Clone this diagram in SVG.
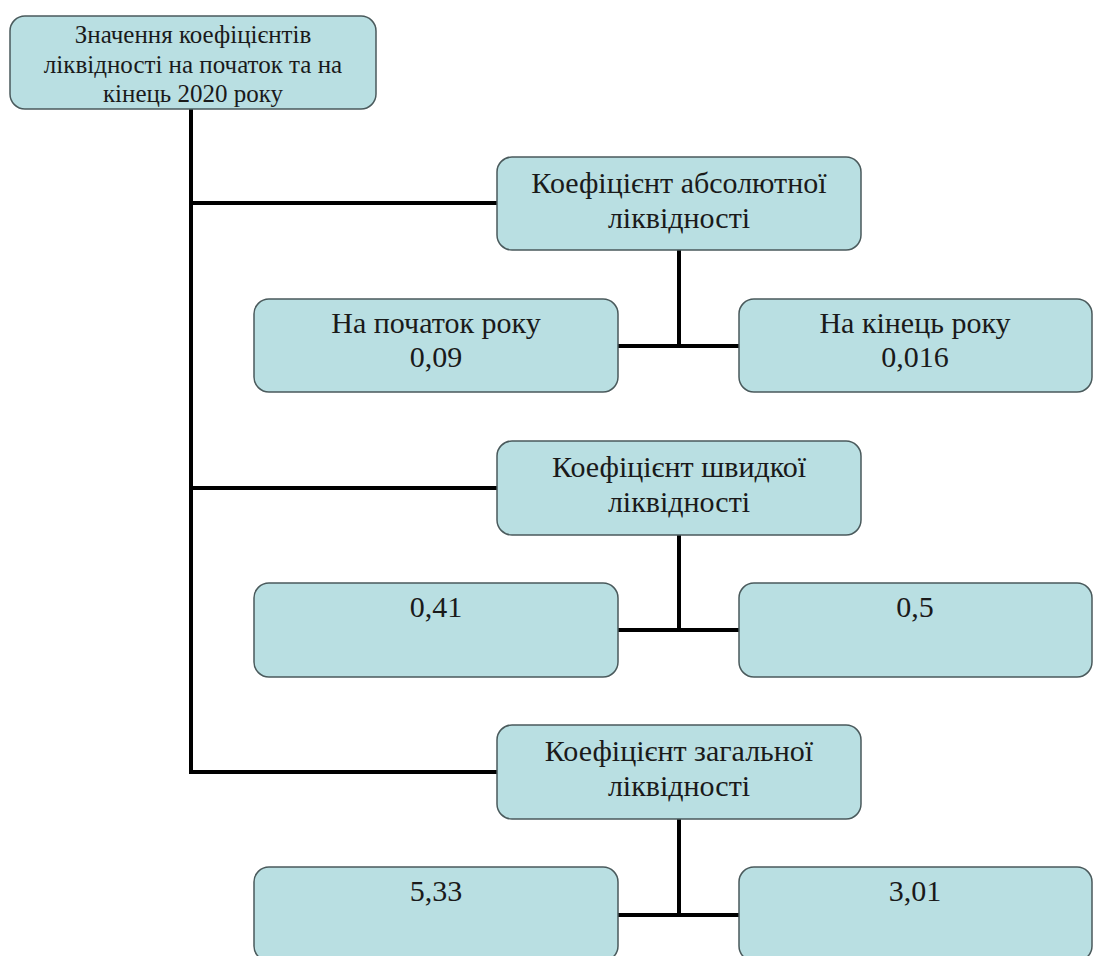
<svg xmlns="http://www.w3.org/2000/svg" width="1093" height="956" viewBox="0 0 1093 956">
<style>
.box{fill:#b9dfe2;stroke:#4a5a5c;stroke-width:1.5}
.t{font-family:"Liberation Serif","Times New Roman",serif;font-size:30px;fill:#1a1a1a;text-anchor:middle}
.ts{font-family:"Liberation Serif","Times New Roman",serif;font-size:25px;fill:#1a1a1a;text-anchor:middle}
.c{stroke:#000;stroke-width:4;fill:none}
</style>
<rect width="1093" height="956" fill="#fff"/>
<g id="connectors">
<path class="c" d="M191 109 V772 H497"/>
<path class="c" d="M191 203 H497"/>
<path class="c" d="M191 488 H497"/>
<path class="c" d="M679 250 V346"/>
<path class="c" d="M618 346 H739"/>
<path class="c" d="M679 535 V630"/>
<path class="c" d="M618 630 H739"/>
<path class="c" d="M679 819 V915"/>
<path class="c" d="M618 915 H739"/>
</g>
<g id="root">
<rect class="box" x="10" y="16" width="366" height="93" rx="15"/>
<text class="ts" x="193" y="43">Значення коефіцієнтів</text>
<text class="ts" x="193" y="73">ліквідності на початок та на</text>
<text class="ts" x="193" y="102">кінець 2020 року</text>
</g>
<g id="abs">
<rect class="box" x="497" y="157" width="364" height="93" rx="15"/>
<text class="t" x="679" y="193">Коефіцієнт абсолютної</text>
<text class="t" x="679" y="228">ліквідності</text>
</g>
<g id="abs-start">
<rect class="box" x="254" y="299" width="364" height="93" rx="15"/>
<text class="t" x="436" y="333">На початок року</text>
<text class="t" x="436" y="367">0,09</text>
</g>
<g id="abs-end">
<rect class="box" x="739" y="299" width="353" height="93" rx="15"/>
<text class="t" x="915" y="333">На кінець року</text>
<text class="t" x="915" y="367">0,016</text>
</g>
<g id="quick">
<rect class="box" x="497" y="441" width="364" height="94" rx="15"/>
<text class="t" x="679" y="477">Коефіцієнт швидкої</text>
<text class="t" x="679" y="512">ліквідності</text>
</g>
<g id="quick-start">
<rect class="box" x="254" y="583" width="364" height="94" rx="15"/>
<text class="t" x="436" y="617">0,41</text>
</g>
<g id="quick-end">
<rect class="box" x="739" y="583" width="353" height="94" rx="15"/>
<text class="t" x="915" y="617">0,5</text>
</g>
<g id="total">
<rect class="box" x="497" y="725" width="364" height="94" rx="15"/>
<text class="t" x="679" y="761">Коефіцієнт загальної</text>
<text class="t" x="679" y="796">ліквідності</text>
</g>
<g id="total-start">
<rect class="box" x="254" y="867" width="364" height="94" rx="15"/>
<text class="t" x="436" y="901">5,33</text>
</g>
<g id="total-end">
<rect class="box" x="739" y="867" width="353" height="94" rx="15"/>
<text class="t" x="915" y="901">3,01</text>
</g>
</svg>
